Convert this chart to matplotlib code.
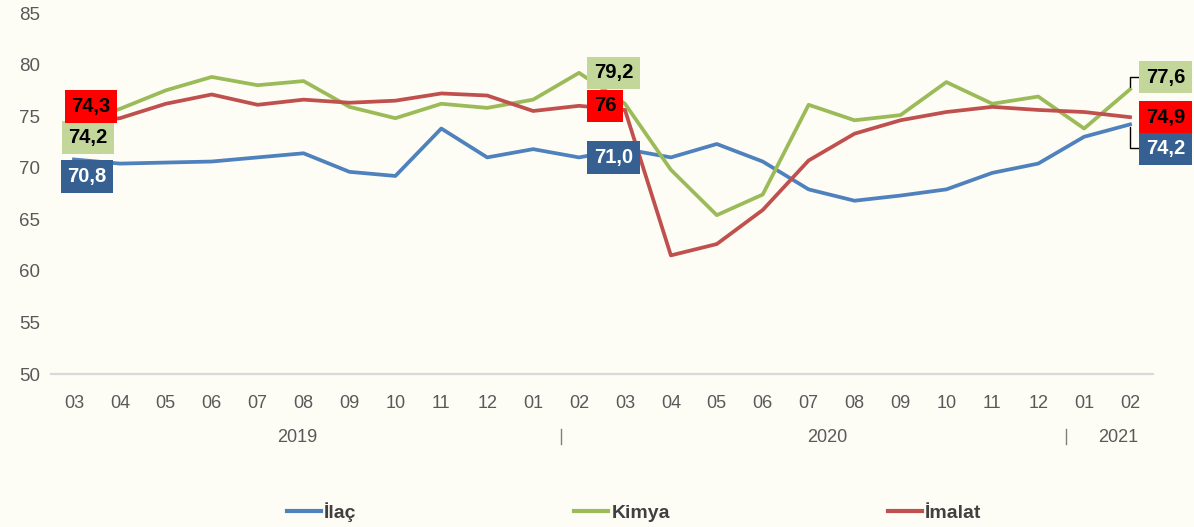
import matplotlib
matplotlib.use("Agg")
import matplotlib.pyplot as plt
import numpy as np

# values, 03/2019 .. 02/2021
months = ["03", "04", "05", "06", "07", "08", "09", "10", "11", "12", "01", "02",
          "03", "04", "05", "06", "07", "08", "09", "10", "11", "12", "01", "02"]
years = ["2019", "2020", "2021"]

ilac = [70.8, 70.4, 70.5, 70.6, 71.0, 71.4, 69.6, 69.2, 73.8, 71.0, 71.8, 71.0,
        71.8, 71.0, 72.3, 70.6, 67.9, 66.8, 67.3, 67.9, 69.5, 70.4, 73.0, 74.2]
kimya = [74.2, 75.7, 77.5, 78.8, 78.0, 78.4, 75.9, 74.8, 76.2, 75.8, 76.6, 79.2,
         76.2, 69.8, 65.4, 67.4, 76.1, 74.6, 75.1, 78.3, 76.2, 76.9, 73.8, 77.6]
imalat = [74.3, 74.8, 76.2, 77.1, 76.1, 76.6, 76.3, 76.5, 77.2, 77.0, 75.5, 76.0,
          75.6, 61.5, 62.6, 65.9, 70.7, 73.3, 74.6, 75.4, 75.9, 75.6, 75.4, 74.9]

# which points carry a value label, and the label text
label_idx = [0, 11, 23]
ilac_lbl = ["70,8", "71,0", "74,2"]
kimya_lbl = ["74,2", "79,2", "77,6"]
imalat_lbl = ["74,3", "76", "74,9"]

names = ["İlaç", "Kimya", "İmalat"]
line_cols = ["#4f81bd", "#9bbb59", "#c0504d"]
box_cols = ["#366092", "#c4d79b", "#ff0000"]
txt_cols = ["white", "black", "black"]

plt.rcParams["font.family"] = ["Liberation Sans", "DejaVu Sans"]

bg = "#fdfdf6"
fig = plt.figure(figsize=(11.94, 5.27), dpi=100, facecolor=bg)
ax = fig.add_axes([51 / 1194, 1 - 374 / 527, (1153 - 51) / 1194, (374 - 13) / 527])
ax.set_facecolor(bg)

x = np.arange(len(months))
series = [ilac, kimya, imalat]
for vals, c, n in zip(series, line_cols, names):
    ax.plot(x, vals, color=c, lw=2.7, label=n, solid_joinstyle="round", zorder=2)

ax.set_xlim(-0.5, len(months) - 0.5)
ax.set_ylim(50, 85)
ax.set_yticks(np.arange(50, 86, 5))
ax.set_xticks(x)
ax.set_xticklabels(months)
ax.tick_params(axis="x", length=0, pad=15, labelsize=13, labelcolor="#595959")
ax.tick_params(axis="y", length=0, pad=8, labelsize=13.5, labelcolor="#595959")
for s in ["top", "right", "left"]:
    ax.spines[s].set_visible(False)
ax.spines["bottom"].set_color("#d9d9d9")
ax.spines["bottom"].set_linewidth(1.6)

# year row under month labels
year_pos = [4.86, 16.4, 22.75]
for yr, p in zip(years, year_pos):
    ax.text(p, -0.177, yr, transform=ax.get_xaxis_transform(), ha="center", va="center",
            fontsize=13, color="#595959")
for p in [10.6, 21.6]:
    ax.plot([p, p], [-0.152, -0.194], transform=ax.get_xaxis_transform(),
            color="#7f7f7f", lw=1, clip_on=False)

# data labels: offsets in pixels (dx, dy), dy positive = down
offsets = {
    0: {0: (13, 17), 1: (14, 13), 2: (17, -17)},
    11: {0: (11, 0), 1: (11, 0), 2: (11, 0)},
    23: {0: (12, 24), 1: (12, -12), 2: (12, 0)},
}
labels = [ilac_lbl, kimya_lbl, imalat_lbl]
for si in range(3):
    for k, i in enumerate(label_idx):
        dx, dy = offsets[i][si]
        ha = "center" if i == 0 else "left"
        if i != 0:
            dx = dx + 4
        arrow = None
        if i == 23 and si in (0, 1):
            arrow = dict(arrowstyle="-", color="black", lw=1,
                         connectionstyle="angle,angleA=0,angleB=90,rad=0",
                         shrinkA=0, shrinkB=2)
        ax.annotate(labels[si][k], xy=(i, series[si][i]),
                    xytext=(dx * 0.72, -dy * 0.72), textcoords="offset points",
                    ha=ha, va="center", fontsize=14.5, fontweight="bold",
                    color=txt_cols[si], annotation_clip=False, zorder=4 + si,
                    bbox=dict(boxstyle="square,pad=0.33", fc=box_cols[si], ec="none"),
                    arrowprops=arrow)

leg = fig.legend(loc="center", bbox_to_anchor=(634 / 1194, 1 - 512 / 527), ncol=3,
                 frameon=False, handlelength=1.75, handletextpad=0.15,
                 columnspacing=11.2, prop={"weight": "bold", "size": 14})
for t in leg.get_texts():
    t.set_color("#404040")
for h in leg.get_lines():
    h.set_linewidth(3)

plt.savefig("out.png", dpi=100, facecolor=bg)
